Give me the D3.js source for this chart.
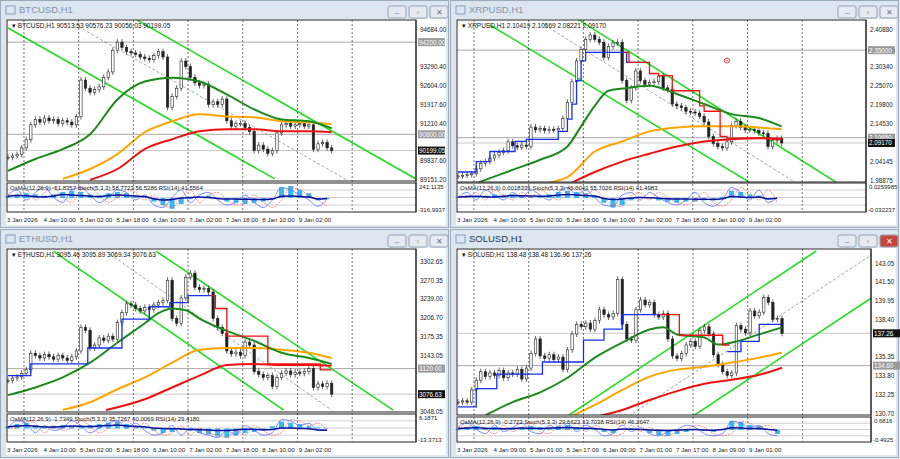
<!DOCTYPE html>
<html>
<head>
<meta charset="utf-8">
<script src="https://d3js.org/d3.v7.min.js"></script>
<style>
  body { margin: 0; background: #e9eef4; font-family: "Liberation Sans", Arial, sans-serif; }
  svg { display: block; }
</style>
</head>
<body>
<svg id="chart" width="900" height="459"></svg>
<script>
// ---- shared time axis (hours from first bar, 2h bars) ----
const barHours = d3.range(0, 144, 2);
const oscHours = d3.range(0, 144, 4);
const gridHours = [7, 31, 55, 79, 103, 127, 151];
const timeLabelsA = ["3 Jan 2026", "4 Jan 10:00", "5 Jan 02:00", "5 Jan 18:00", "6 Jan 10:00", "7 Jan 02:00", "7 Jan 18:00", "8 Jan 10:00", "9 Jan 02:00"];
const timeLabelsB = ["3 Jan 2026", "4 Jan 09:00", "5 Jan 01:00", "5 Jan 17:00", "6 Jan 09:00", "7 Jan 01:00", "7 Jan 17:00", "8 Jan 09:00", "9 Jan 01:00"];

// ---- BTCUSD ----
const btcClose = [89950,90000,90050,90300,90600,91150,91350,91250,91400,91300,91350,91200,91300,91250,91150,91450,
  92800,92500,92350,92450,92550,92900,93100,93900,94200,94000,93850,93800,93750,93650,93600,93550,93700,93850,93650,
  91800,92200,92500,93500,93300,92900,92700,92600,92650,91900,92000,91900,92100,91300,91100,91200,91200,91050,90900,
  90200,90400,90250,90100,90200,90850,91150,91200,91100,91150,91200,91100,91150,90250,90450,90500,90300,90199.05];
const btcGreen = [[0,89450],[12,89890],[24,90255],[36,90805],[48,92085],[60,92745],[72,92890],[84,92745],[96,92270],[108,91720],[120,91350],[132,91280],[142,91020]];
const btcOrange = [[24,89155],[36,89520],[48,90070],[60,90876],[72,91280],[84,91535],[96,91460],[108,91425],[120,91280],[132,91240],[142,91170]];
const btcRed = [[36,89120],[48,89520],[60,90255],[72,90620],[84,90913],[96,90987],[108,90987],[120,90913],[132,90913],[142,90876]];
const btcChannel = [[[0,94720],[117,89157]], [[56.6,95013],[179,89151]]];
const btcMid = [[29,94860],[149,89100]];
const btcTicks = [94684.00,93997.60,93290.40,92604.00,91917.60,91210.40,90524.00,89837.60,89151.20];
const btcLevels = [94200.00, 90800.00];
const btcOsma = [0.2,0.3,0.4,0.3,0.2,0.3,0.5,0.6,0.5,0.3,0.2,0.4,0.5,0.4,0.2,0.1,-0.3,-0.6,-0.9,-0.5,-0.1,0.1,0.2,-0.1,-0.3,-0.4,-0.5,-0.4,-0.3,-0.1,0.9,1.0,0.7,0.4,-0.2,-0.1];
const btcStoch = [60,80,40,70,90,50,30,80,90,60,30,50,80,70,40,60,20,10,50,80,30,60,70,40,20,30,60,30,10,40,90,80,60,40,15,45];
const btcRsi = [55,58,57,54,52,56,62,60,58,55,54,58,60,58,56,54,45,40,42,48,50,52,50,46,44,44,43,42,42,44,55,56,54,52,44,46];

// ---- XRPUSD ----
const xrpClose = [2.000,2.002,2.004,2.006,2.020,2.035,2.040,2.050,2.058,2.066,2.070,2.095,2.084,2.080,2.086,2.082,2.136,
  2.128,2.132,2.126,2.130,2.128,2.132,2.160,2.205,2.262,2.320,2.352,2.380,2.392,2.380,2.372,2.330,2.360,2.370,2.372,
  2.265,2.210,2.245,2.292,2.265,2.255,2.260,2.262,2.278,2.245,2.240,2.200,2.195,2.190,2.180,2.178,2.175,2.166,2.150,
  2.110,2.090,2.082,2.078,2.095,2.140,2.152,2.135,2.128,2.130,2.126,2.120,2.118,2.082,2.098,2.104,2.0917];
const xrpGreen = [[6,1.975],[12,1.989],[24,2.017],[36,2.045],[48,2.082],[54,2.138],[60,2.195],[66,2.237],[72,2.243],[84,2.251],[96,2.228],[108,2.200],[120,2.172],[132,2.161],[142,2.138]];
const xrpOrange = [[36,1.978],[48,1.997],[60,2.068],[72,2.096],[84,2.124],[96,2.135],[108,2.138],[120,2.138],[132,2.135],[142,2.130]];
const xrpRed = [[48,1.975],[60,2.011],[72,2.040],[84,2.062],[96,2.082],[108,2.096],[120,2.102],[132,2.105],[142,2.102]];
const xrpBlue = [[0,2.011],[8,2.040],[14,2.068],[25,2.096],[30,2.102],[44,2.124],[48,2.158],[50,2.200],[52,2.265],[54,2.320],[56,2.344],[74,2.316],[83,2.316],[83,null]];
const xrpTrailRed = [[73,2.344],[75,2.316],[84,2.285],[88,2.279],[94,2.237],[106,2.195],[108,2.180],[115,2.110],[118,2.105],[142,2.105]];
const xrpChannel = [[[14,2.420],[129,1.978]], [[53,2.434],[167,1.978]]];
const xrpMid = [[38,2.420],[149,1.978]];
const xrpTicks = [2.40880,2.35610,2.30340,2.25070,2.19800,2.14530,2.04145,1.98875];
const xrpLevels = [2.35000, 2.10650];
const xrpOsma = [0.1,0.2,0.1,0.2,0.3,0.2,0.3,0.2,0.1,0.2,0.3,0.5,0.6,0.5,0.4,0.2,-0.4,-0.8,-0.6,-0.2,0.1,0.0,-0.2,-0.3,-0.4,-0.3,-0.3,-0.2,-0.2,0.1,0.6,0.5,0.3,0.2,-0.1,0.0];
const xrpStoch = [50,70,40,80,60,40,70,50,80,60,40,70,90,60,80,50,20,15,60,70,40,70,50,30,20,40,70,30,15,40,90,70,40,80,30,50];
const xrpRsi = [52,54,55,53,52,55,58,57,56,55,56,60,62,60,58,56,46,42,44,48,50,49,47,45,44,44,43,43,42,45,54,52,50,52,44,47];

// ---- ETHUSD ----
const ethClose = [3100,3104,3106,3112,3118,3146,3142,3138,3144,3140,3136,3142,3138,3134,3140,3150,3190,3185,3155,3160,
  3172,3168,3175,3170,3198,3215,3230,3228,3222,3218,3224,3220,3228,3232,3236,3270,3205,3197,3240,3275,3282,3258,3254,
  3256,3250,3205,3190,3180,3150,3145,3148,3142,3165,3160,3115,3110,3105,3108,3090,3105,3112,3116,3110,3114,3112,3115,
  3120,3088,3094,3090,3095,3076.63];
const ethGreen = [[0,3075],[12,3088],[24,3105],[36,3130],[48,3164],[60,3197],[66,3214],[72,3222],[78,3219],[84,3205],[96,3184],[108,3167],[120,3147],[132,3138],[142,3128]];
const ethOrange = [[24,3050],[36,3063],[48,3085],[60,3105],[72,3130],[84,3152],[96,3155],[108,3155],[120,3152],[132,3147],[142,3138]];
const ethRed = [[43,3049.6],[60,3068],[72,3088],[84,3108],[96,3126],[108,3128],[120,3126],[132,3126],[142,3125]];
const ethBlue = [[0,3108],[10,3128],[35,3155],[50,3204],[62,3225],[71,3232],[79,3244],[89,3244],[89,null]];
const ethTrailRed = [[89,3244],[91,3222],[96,3175],[114,3128],[137,3118],[142,3118]];
const ethChannel = [[[20,3319],[121,3049.6]], [[65,3319],[169,3049.6]]];
const ethMid = [[43,3319],[142,3049.6]];
const ethTicks = [3302.65,3270.35,3239.00,3206.70,3175.35,3143.05,3111.70,3048.05];
const ethLevels = [3120.00];
const ethOsma = [0.2,0.4,0.5,0.3,0.1,0.2,0.3,0.2,0.2,0.3,0.4,0.5,0.6,0.4,0.2,0.1,-0.2,-0.4,-0.3,-0.1,-0.2,-0.4,-0.5,-0.7,-0.8,-0.6,-0.4,-0.3,-0.2,0.2,0.6,0.5,0.4,0.2,0.1,0.0];
const ethStoch = [50,80,70,30,60,40,50,80,60,30,50,70,80,50,70,40,20,30,60,20,50,30,20,10,40,20,60,40,20,30,85,80,60,70,40,50];
const ethRsi = [55,58,60,57,54,54,56,58,57,56,58,60,62,58,57,55,50,48,47,46,44,43,42,40,40,42,45,44,43,44,50,50,48,47,42,41];

// ---- SOLUSD ----
const solClose = [131.6,131.7,131.6,132.6,133.4,134.1,133.7,134.0,133.8,134.2,133.6,134.0,133.9,134.3,133.5,134.4,135.6,
  136.8,135.4,135.2,135.5,135.1,135.3,134.3,135.9,137.2,138.0,137.8,138.1,137.6,138.3,139.2,138.8,138.6,138.9,141.7,
  138.0,136.8,136.7,139.2,140.0,139.6,139.8,138.8,138.6,138.9,136.8,135.4,135.2,135.6,136.3,136.6,136.2,137.5,137.8,
  137.2,135.5,134.7,134.1,133.8,134.0,137.9,137.6,137.3,139.1,138.7,139.0,140.2,139.8,138.4,138.48,137.26];
const solGreen = [[12,130.5],[24,131.6],[36,132.4],[48,133.6],[60,135.26],[72,136.5],[84,137.58],[90,137.75],[96,137.17],[108,136.92],[114,136.33],[120,136.5],[132,137.17],[142,137.75]];
const solOrange = [[50,130.45],[60,131.36],[72,132.6],[84,133.7],[96,134.27],[108,134.5],[120,134.85],[132,135.26],[142,135.67]];
const solRed = [[62,130.45],[72,130.95],[84,131.77],[96,132.5],[108,133.1],[120,133.44],[132,133.85],[142,134.43]];
const solBlue = [[0,131.2],[8,132.7],[17,133.9],[37,134.9],[55,136.7],[64,137.6],[72,138.8],[88,138.8],[88,null],[118,135.75],[124,136.6],[132,138.0],[142,138.0]];
const solTrailRed = [[88,138.8],[97,137.1],[116,136.3],[119,136.3]];
const solChannel = [[[48,130.45],[157,144.04]], [[103,130.45],[181,140.15]]];
const solMid = [[75,130.45],[181,143.7]];
const solTicks = [143.05,141.50,139.95,138.40,136.90,135.35,133.80,132.25,130.70];
const solLevels = [134.60];
const solOsma = [0.1,0.3,0.4,0.2,0.3,0.2,0.1,0.3,0.4,0.3,0.2,0.4,0.5,0.3,0.2,0.1,-0.2,-0.3,0.1,0.2,0.0,-0.3,-0.5,-0.6,-0.4,-0.2,0.0,-0.1,-0.2,0.1,0.9,0.8,0.5,0.4,0.0,-0.4];
const solStoch = [60,80,50,30,70,40,60,80,40,30,70,50,80,40,70,50,20,30,70,40,60,30,20,40,50,70,60,30,20,30,90,80,60,70,30,20];
const solRsi = [55,57,58,56,55,54,55,57,56,55,57,58,60,57,56,55,50,48,52,51,50,48,46,45,47,49,50,48,47,50,58,57,55,55,50,46];

const panels = [
  { ox: 0, oy: 0, title: "BTCUSD,H1", header: "BTCUSD,H1  90513.53 90576.23 90056.03 90199.05",
    osc: "OsMA(12,26,9) -61.8357  Stoch(5,3,3) 58.7723 56.5286  RSI(14) 41.5564", oscTop: "241.1135", oscBot: "-316.9937",
    close: btcClose, green: btcGreen, orange: btcOrange, red: btcRed, blue: null, trailRed: null,
    channel: btcChannel, mid: btcMid, ticks: btcTicks, levels: btcLevels, dec: 2,
    cal: [94684, 29, 89151.2, 179], main: [20, 181], ind: [183, 212], right: 416, hMax: 179,
    osma: btcOsma, stoch: btcStoch, rsi: btcRsi, times: timeLabelsA, active: false },
  { ox: 450, oy: 0, title: "XRPUSD,H1", header: "XRPUSD,H1  2.10419 2.10569 2.08221 2.09170",
    osc: "OsMA(12,26,9) 0.0018335  Stoch(5,3,3) 46.0043 55.7026  RSI(14) 41.4983", oscTop: "0.0259985", oscBot: "-0.032237",
    close: xrpClose, green: xrpGreen, orange: xrpOrange, red: xrpRed, blue: xrpBlue, trailRed: xrpTrailRed,
    channel: xrpChannel, mid: xrpMid, ticks: xrpTicks, levels: xrpLevels, dec: 5,
    cal: [2.4088, 29, 1.98875, 180], main: [20, 182], ind: [183, 212], right: 416, hMax: 179,
    osma: xrpOsma, stoch: xrpStoch, rsi: xrpRsi, times: timeLabelsA, active: false, target: [118, 2.321] },
  { ox: 0, oy: 229, title: "ETHUSD,H1", header: "ETHUSD,H1  3095.46 3095.89 3069.34 3076.63",
    osc: "OsMA(12,26,9) -1.7349  Stoch(5,3,3) 35.7267 40.0069  RSI(14) 29.4180", oscTop: "6.1871", oscBot: "-13.3713",
    close: ethClose, green: ethGreen, orange: ethOrange, red: ethRed, blue: ethBlue, trailRed: ethTrailRed,
    channel: ethChannel, mid: ethMid, ticks: ethTicks, levels: ethLevels, dec: 2,
    cal: [3302.65, 32, 3048.05, 182], main: [20, 183], ind: [185, 213], right: 416, hMax: 179,
    osma: ethOsma, stoch: ethStoch, rsi: ethRsi, times: timeLabelsA, active: false },
  { ox: 450, oy: 229, title: "SOLUSD,H1", header: "SOLUSD,H1  138.48 138.48 136.96 137.26",
    osc: "OsMA(12,26,9) -0.2723  Stoch(5,3,3) 29.6623 33.7038  RSI(14) 46.2647", oscTop: "0.6816", oscBot: "-0.4925",
    close: solClose, green: solGreen, orange: solOrange, red: solRed, blue: solBlue, trailRed: solTrailRed,
    channel: solChannel, mid: solMid, ticks: solTicks, levels: solLevels, dec: 2,
    cal: [143.05, 34, 130.7, 184], main: [20, 186], ind: [188, 213], right: 421, hMax: 181,
    osma: solOsma, stoch: solStoch, rsi: solRsi, times: timeLabelsB, active: true }
];

const svg = d3.select("#chart");
panels.forEach(drawPanel);

function drawPanel(p) {
  const W = 450, H = p.oy ? 230 : 229;
  const g = svg.append("g").attr("transform", `translate(${p.ox},${p.oy})`);
  const left = 7, right = p.right;

  // window frame + title bar
  g.append("rect").attr("x", 0.5).attr("y", 0.5).attr("width", W - 2).attr("height", H - 2)
    .attr("fill", "#dde5ee").attr("stroke", "#9aa9bb");
  g.append("text").attr("x", 19).attr("y", 13).attr("font-size", 9.5).attr("fill", p.active ? "#23364f" : "#8393a6").text(p.title);
  g.append("rect").attr("x", 6).attr("y", 6).attr("width", 9).attr("height", 8).attr("fill", "none").attr("stroke", "#7fa0c6");
  [388, 409, 430].forEach((bx, i) => {
    g.append("rect").attr("x", bx).attr("y", 6).attr("width", 18).attr("height", 12).attr("rx", 2)
      .attr("fill", (p.active && i === 2) ? "#c9463d" : "#e6ebf1").attr("stroke", "#95a3b4");
    g.append("text").attr("x", bx + 9).attr("y", 15).attr("text-anchor", "middle").attr("font-size", 8)
      .attr("fill", (p.active && i === 2) ? "#fff" : "#66758a").text(["–", "▫", "✕"][i]);
  });
  g.append("rect").attr("x", left - 1).attr("y", 19).attr("width", W - left - 3).attr("height", H - 23).attr("fill", "#fff");

  const x = d3.scaleLinear().domain([0, p.hMax]).range([8, right]);
  const y = d3.scaleLinear().domain([p.cal[0], p.cal[2]]).range([p.cal[1], p.cal[3]]);
  const [mt, mb] = p.main, [it, ib] = p.ind;

  const clipId = "clip" + p.ox + "_" + p.oy;
  g.append("clipPath").attr("id", clipId).append("rect").attr("x", left).attr("y", mt).attr("width", right - left).attr("height", mb - mt);
  const plot = g.append("g").attr("clip-path", `url(#${clipId})`);

  // grid
  gridHours.forEach(h => g.append("line").attr("x1", x(h)).attr("x2", x(h)).attr("y1", mt).attr("y2", ib)
    .attr("stroke", "#333").attr("stroke-dasharray", "2,2").attr("stroke-width", 0.7));

  // horizontal levels + current price line
  p.levels.forEach(v => plot.append("line").attr("x1", left).attr("x2", right).attr("y1", y(v)).attr("y2", y(v)).attr("stroke", "#a9a9a9"));
  const last = p.close[p.close.length - 1];
  plot.append("line").attr("x1", left).attr("x2", right).attr("y1", y(last)).attr("y2", y(last)).attr("stroke", "#c8c8c8");

  // channels
  p.channel.forEach(c => plot.append("line").attr("x1", x(c[0][0])).attr("y1", y(c[0][1])).attr("x2", x(c[1][0])).attr("y2", y(c[1][1]))
    .attr("stroke", "#22dd22").attr("stroke-width", 1.6));
  plot.append("line").attr("x1", x(p.mid[0][0])).attr("y1", y(p.mid[0][1])).attr("x2", x(p.mid[1][0])).attr("y2", y(p.mid[1][1]))
    .attr("stroke", "#6a8f6a").attr("stroke-dasharray", "3,2").attr("stroke-width", 0.7);

  // candles
  const bw = 2.4;
  plot.selectAll("g.c").data(p.close).join("g").each(function (c, i) {
    const o = i === 0 ? c : p.close[i - 1];
    const hx = x(barHours[i]);
    const top = y(Math.max(o, c)), bot = y(Math.min(o, c));
    d3.select(this).append("line").attr("x1", hx).attr("x2", hx).attr("y1", top - 3).attr("y2", bot + 3).attr("stroke", "#222").attr("stroke-width", 0.7);
    d3.select(this).append("rect").attr("x", hx - bw / 2).attr("y", top).attr("width", bw).attr("height", Math.max(1, bot - top))
      .attr("fill", c >= o ? "#fff" : "#222").attr("stroke", "#222").attr("stroke-width", 0.6);
  });

  // moving averages & trailing lines
  const line = d3.line().defined(d => d[1] != null).x(d => x(d[0])).y(d => y(d[1]));
  const step = d3.line().defined(d => d[1] != null).x(d => x(d[0])).y(d => y(d[1])).curve(d3.curveStepAfter);
  plot.append("path").attr("d", line.curve(d3.curveMonotoneX)(p.orange)).attr("fill", "none").attr("stroke", "#ffa500").attr("stroke-width", 2);
  plot.append("path").attr("d", line(p.red)).attr("fill", "none").attr("stroke", "#ee1111").attr("stroke-width", 2);
  plot.append("path").attr("d", line(p.green)).attr("fill", "none").attr("stroke", "#1a8a1a").attr("stroke-width", 2);
  if (p.blue) plot.append("path").attr("d", step(p.blue)).attr("fill", "none").attr("stroke", "#1530ee").attr("stroke-width", 1.3);
  if (p.trailRed) plot.append("path").attr("d", step(p.trailRed)).attr("fill", "none").attr("stroke", "#ee1111").attr("stroke-width", 1.3);
  if (p.target) {
    plot.append("circle").attr("cx", x(p.target[0])).attr("cy", y(p.target[1])).attr("r", 2.5).attr("fill", "none").attr("stroke", "#e33");
    plot.append("circle").attr("cx", x(p.target[0])).attr("cy", y(p.target[1])).attr("r", 0.8).attr("fill", "#e33");
  }

  // main pane box
  g.append("rect").attr("x", left).attr("y", mt).attr("width", right - left).attr("height", mb - mt).attr("fill", "none").attr("stroke", "#222");
  g.append("text").attr("x", left + 5).attr("y", mt + 8).attr("font-size", 6.5).attr("fill", "#111").text("▾ " + p.header);

  // price axis: tick labels hidden where a level/price box sits, as the terminal does
  const fmt = d3.format("." + p.dec + "f");
  const fs = 6.3;
  const boxed = p.levels.concat([last]).map(v => y(v));
  p.ticks.filter(v => boxed.every(b => Math.abs(b - y(v)) > 8.5))
    .forEach(v => g.append("text").attr("x", right + 4).attr("y", y(v) + 2.5).attr("font-size", fs).attr("fill", "#222").text(fmt(v)));
  p.levels.forEach(v => {
    g.append("rect").attr("x", right + 2).attr("y", y(v) - 4).attr("width", 27).attr("height", 8).attr("fill", "#9a9a9a");
    g.append("text").attr("x", right + 3).attr("y", y(v) + 2.5).attr("font-size", fs).attr("fill", "#fff").text(fmt(v));
  });
  g.append("rect").attr("x", right + 2).attr("y", y(last) - 4).attr("width", 27).attr("height", 8).attr("fill", "#111");
  g.append("text").attr("x", right + 3).attr("y", y(last) + 2.5).attr("font-size", fs).attr("fill", "#fff").text(fmt(last));

  // indicator pane
  const yo = d3.scaleLinear().domain([-1, 1]).range([ib - 2, it + 3]);
  const ys = d3.scaleLinear().domain([0, 100]).range([ib - 2, it + 2]);
  [20, 50, 80].forEach(v => g.append("line").attr("x1", left).attr("x2", right).attr("y1", ys(v)).attr("y2", ys(v)).attr("stroke", "#bbb").attr("stroke-width", 0.7));
  g.selectAll(null).data(p.osma).join("rect")
    .attr("x", (d, i) => x(oscHours[i]) - 2.5).attr("width", 5)
    .attr("y", d => Math.min(yo(0), yo(d))).attr("height", d => Math.abs(yo(d) - yo(0)))
    .attr("fill", "#38b8f0");
  const ls = d3.line().x((d, i) => x(oscHours[i])).y(d => ys(d)).curve(d3.curveMonotoneX);
  g.append("path").attr("d", ls(p.stoch)).attr("fill", "none").attr("stroke", "#5a6cff").attr("stroke-width", 0.8);
  g.append("path").attr("d", ls(p.stoch.map((d, i) => p.stoch[Math.max(0, i - 1)]))).attr("fill", "none").attr("stroke", "#f06060").attr("stroke-width", 0.7).attr("stroke-dasharray", "2,1");
  g.append("path").attr("d", ls(p.rsi)).attr("fill", "none").attr("stroke", "#10109a").attr("stroke-width", 1.5);
  g.append("rect").attr("x", left).attr("y", it).attr("width", right - left).attr("height", ib - it).attr("fill", "none").attr("stroke", "#222");
  g.append("text").attr("x", left + 3).attr("y", it + 7).attr("font-size", 6).attr("fill", "#222").text(p.osc);
  g.append("text").attr("x", right + 3).attr("y", it + 6).attr("font-size", 6).attr("fill", "#222").text(p.oscTop);
  g.append("text").attr("x", right + 2).attr("y", ib).attr("font-size", 6).attr("fill", "#222").text(p.oscBot);

  // axis line right and time labels
  g.append("line").attr("x1", right).attr("x2", right).attr("y1", mt).attr("y2", ib).attr("stroke", "#222");
  p.times.forEach((t, k) => g.append("text").attr("x", x(16 * k) - 1).attr("y", ib + 10).attr("font-size", 6.2).attr("fill", "#222").text(t));
}
</script>
</body>
</html>
